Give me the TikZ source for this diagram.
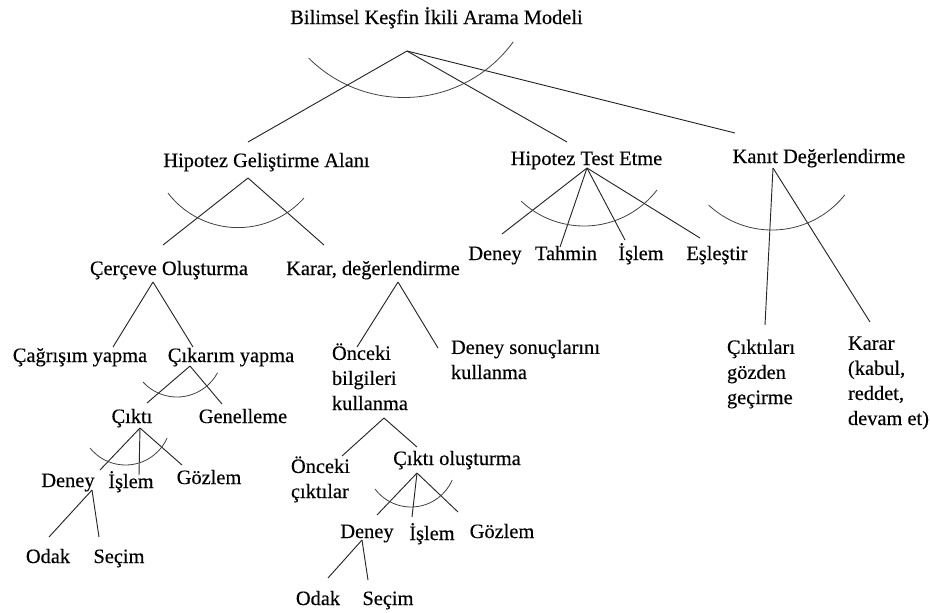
\documentclass[tikz,border=0pt]{standalone}
\usepackage{fontspec}
\setmainfont{Liberation Serif}
\newfontfamily\treefont{Liberation Serif}[FakeBold=0.3]
\usetikzlibrary{calc}
% and-arc: centre, start angle, end angle, radius
\newcommand{\andarc}[4]{%
  \draw[andarc] (#1) ++(#2:#4) arc[start angle=#2, end angle=#3, radius=#4];}

\begin{document}
\begin{tikzpicture}[x=0.75pt, y=-0.75pt]
  \tikzset{lbl/.style={inner sep=0pt, outer sep=0pt, anchor=base, font=\treefont\fontsize{15.3}{18.8}\selectfont}};
  \tikzset{lbll/.style={lbl, anchor=base west, align=left}};
  \tikzset{br/.style={line width=0.7pt, black!85}};
  \tikzset{andarc/.style={line width=0.6pt, black!75}};
  \useasboundingbox (0,0) rectangle (931,612);

  % level 0 and 1
  \node[lbl] (root) at (436.5,24) {Bilimsel Keşfin İkili Arama Modeli};
  \node[lbl] (hga) at (266.5,167) {Hipotez Geliştirme Alanı};
  \node[lbl] (hte) at (586.5,165) {Hipotez Test Etme};
  \node[lbl] (kd) at (819,163) {Kanıt Değerlendirme};

  % under hga
  \node[lbl] (cer) at (169,275) {Çerçeve Oluşturma};
  \node[lbl] (kar) at (373,275) {Karar, değerlendirme};
  \node[lbl] (cag) at (80,362) {Çağrışım yapma};
  \node[lbl] (cik) at (231,362) {Çıkarım yapma};
  \node[lbl] (ckt) at (132,423) {Çıktı};
  \node[lbl] (gen) at (243,423) {Genelleme};
  \node[lbl] (dny1) at (68,487) {Deney};
  \node[lbl] (isl1) at (131,488) {İşlem};
  \node[lbl] (goz1) at (209,484) {Gözlem};
  \node[lbl] (odk1) at (48,563) {Odak};
  \node[lbl] (sec1) at (119,563) {Seçim};
  \node[lbll] (onb) at (332,410) {Önceki\\bilgileri\\kullanma};
  \node[lbll] (dsk) at (451,379) {Deney sonuçlarını\\kullanma};
  \node[lbll] (onc) at (291,498) {Önceki\\çıktılar};
  \node[lbl] (cko) at (457,465) {Çıktı oluşturma};
  \node[lbl] (dny2) at (367,538) {Deney};
  \node[lbl] (isl2) at (432,540) {İşlem};
  \node[lbl] (goz2) at (502,538) {Gözlem};
  \node[lbl] (odk2) at (318,605) {Odak};
  \node[lbl] (sec2) at (388,605) {Seçim};

  % under hte
  \node[lbl] (deney) at (495,260) {Deney};
  \node[lbl] (tahmin) at (566,260) {Tahmin};
  \node[lbl] (islem) at (641,260) {İşlem};
  \node[lbl] (esles) at (717,260) {Eşleştir};

  % under kd
  \node[lbll] (cgg) at (727,404) {Çıktıları\\gözden\\geçirme};
  \node[lbll] (krr) at (848,425) {Karar\\(kabul,\\reddet,\\devam et)};

  % junctions
  \coordinate (root-j) at ($(root.base)+(-29.5,27)$);
  \coordinate (hga-j) at ($(hga.base)+(-18.5,11)$);
  \coordinate (hte-j) at ($(hte.base)+(0.5,3)$);
  \coordinate (kd-j) at ($(kd.base)+(-46,5)$);
  \coordinate (cer-j) at ($(cer.base)+(-16,7)$);
  \coordinate (kar-j) at ($(kar.base)+(25,7)$);
  \coordinate (cik-j) at ($(cik.base)+(-41,4)$);
  \coordinate (ckt-j) at ($(ckt.base)+(8,5)$);
  \coordinate (dny1-j) at ($(dny1.base)+(24,3)$);
  \coordinate (onb-j) at ($(onb.base west)+(52,8)$);
  \coordinate (cko-j) at ($(cko.base)+(-40,8)$);
  \coordinate (dny2-j) at ($(dny2.base)+(-5,2)$);

  % root
  \draw[br] (root-j) -- ($(hga.base)+(-18.5,-25)$);
  \draw[br] (root-j) -- ($(hte.base)+(-19.5,-23)$);
  \draw[br] (root-j) -- ($(kd.base)+(-84,-30)$);
  \andarc{$(root-j)+(-3,-88.5)$}{135}{36}{135}

  % hga
  \draw[br] (hga-j) -- ($(cer.base)+(-6,-30)$);
  \draw[br] (hga-j) -- ($(kar.base)+(-49,-30)$);
  \andarc{$(hga-j)+(-10,-38.7)$}{142.5}{41.7}{88.3}

  % hte
  \draw[br] (hte-j) -- ($(deney.base)+(7,-26)$);
  \draw[br] (hte-j) -- ($(tahmin.base)+(-6,-13)$);
  \draw[br] (hte-j) -- ($(islem.base)+(-16,-20)$);
  \draw[br] (hte-j) -- ($(esles.base)+(-17,-22)$);
  \andarc{$(hte-j)+(-3,-34)$}{133}{37.5}{92}

  % kd
  \draw[br] (kd-j) -- ($(cgg.base west)+(38,-79)$);
  \draw[br] (kd-j) -- ($(krr.base west)+(22,-103)$);
  \andarc{$(kd-j)+(-1,-31)$}{133}{38.5}{93}

  % cer, kar
  \draw[br] (cer-j) -- ($(cag.base)+(33,-15)$);
  \draw[br] (cer-j) -- ($(cik.base)+(-38,-15)$);
  \draw[br] (kar-j) -- ($(onb.base west)+(25,-63)$);
  \draw[br] (kar-j) -- ($(dsk.base west)+(-13,-31)$);

  % cik
  \draw[br] (cik-j) -- ($(ckt.base)+(15,-20)$);
  \draw[br] (cik-j) -- ($(gen.base)+(-21,-19)$);
  \andarc{$(cik-j)+(-13,-15)$}{137.6}{28.2}{46}

  % ckt
  \draw[br] (ckt-j) -- ($(dny1.base)+(32,-17)$);
  \draw[br] (ckt-j) -- ($(isl1.base)+(8,-13)$);
  \draw[br] (ckt-j) -- ($(goz1.base)+(-27,-19)$);
  \andarc{$(ckt-j)+(-14.5,-8.6)$}{141}{24}{45.6}

  % dny1
  \draw[br] (dny1-j) -- ($(odk1.base)+(1,-26)$);
  \draw[br] (dny1-j) -- ($(sec1.base)+(-20,-26)$);

  % onb
  \draw[br] (onb-j) -- ($(onc.base west)+(51,-42)$);
  \draw[br] (onb-j) -- ($(cko.base)+(-40,-18)$);

  % cko
  \draw[br] (cko-j) -- ($(dny2.base)+(10,-23)$);
  \draw[br] (cko-j) -- ($(isl2.base)+(-20,-23)$);
  \draw[br] (cko-j) -- ($(goz2.base)+(-44,-26)$);
  \andarc{$(cko-j)+(-6,-11)$}{143}{23.7}{45}

  % dny2
  \draw[br] (dny2-j) -- ($(odk2.base)+(10,-27)$);
  \draw[br] (dny2-j) -- ($(sec2.base)+(-20,-25)$);
\end{tikzpicture}
\end{document}
